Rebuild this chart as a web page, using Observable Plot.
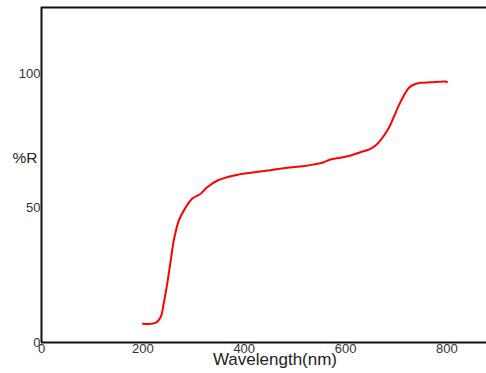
<!DOCTYPE html>
<html>
<head>
<meta charset="utf-8">
<script src="https://cdn.jsdelivr.net/npm/d3@7"></script>
<script src="https://cdn.jsdelivr.net/npm/@observablehq/plot@0.6"></script>
<style>
  html, body { margin: 0; padding: 0; background: #fff; }
  #chart svg { display: block; }
</style>
</head>
<body>
<div id="chart"></div>
<script>
// Diffuse reflectance spectrum
const wavelength = [200, 225, 235, 241, 248, 255, 261, 271, 281, 297, 314, 327, 347, 380, 413, 446, 478, 511, 538, 557, 570, 590, 610, 629, 649, 663, 676, 686, 695, 705, 715, 725, 735, 748, 768, 797, 800];
const reflectance = [7.0, 7.3, 9.4, 14.4, 21.8, 30.5, 37.9, 45.4, 49.1, 53.4, 55.3, 57.7, 60.2, 62.1, 63.1, 63.9, 64.8, 65.4, 66.2, 67.0, 68.0, 68.7, 69.5, 70.7, 72.0, 73.9, 77.0, 80.0, 83.8, 88.1, 91.8, 94.7, 95.9, 96.5, 96.7, 97.0, 96.8];
const xTicks = [0, 200, 400, 600, 800];
const yTicks = [0, 50, 100];
const xDomain = [0, 878];
const yDomain = [0, 124.5];

const spectrum = wavelength.map((w, i) => ({w, r: reflectance[i]}));

const font = "'Liberation Sans', Arial, sans-serif";

const chart = Plot.plot({
  width: 486,
  height: 373,
  marginLeft: 41,
  marginRight: 0,
  marginTop: 7,
  marginBottom: 31,
  style: {fontFamily: font, fontSize: "13px", color: "#333", background: "#fff"},
  x: {domain: xDomain, ticks: xTicks, tickSize: 0, tickPadding: 1, label: null},
  y: {domain: yDomain, ticks: yTicks, tickSize: 0, tickPadding: 1, label: null},
  marks: [
    Plot.line(spectrum, {x: "w", y: "r", stroke: "#ff0000", strokeWidth: 2, curve: "catmull-rom"}),
    Plot.ruleY([yDomain[0]], {stroke: "#111", strokeWidth: 2}),
    Plot.ruleY([yDomain[1]], {stroke: "#111", strokeWidth: 2}),
    Plot.ruleX([xDomain[0]], {stroke: "#111", strokeWidth: 2}),
    Plot.text(["Wavelength(nm)"], {
      frameAnchor: "bottom", dx: 11, dy: 22,
      fontSize: 17, fill: "#222", fontFamily: font
    }),
    Plot.text(["%R"], {
      frameAnchor: "left", textAnchor: "end", dx: -4, dy: -17,
      fontSize: 15.5, fill: "#222", fontFamily: font
    })
  ]
});

document.getElementById("chart").appendChild(chart);
</script>
</body>
</html>
